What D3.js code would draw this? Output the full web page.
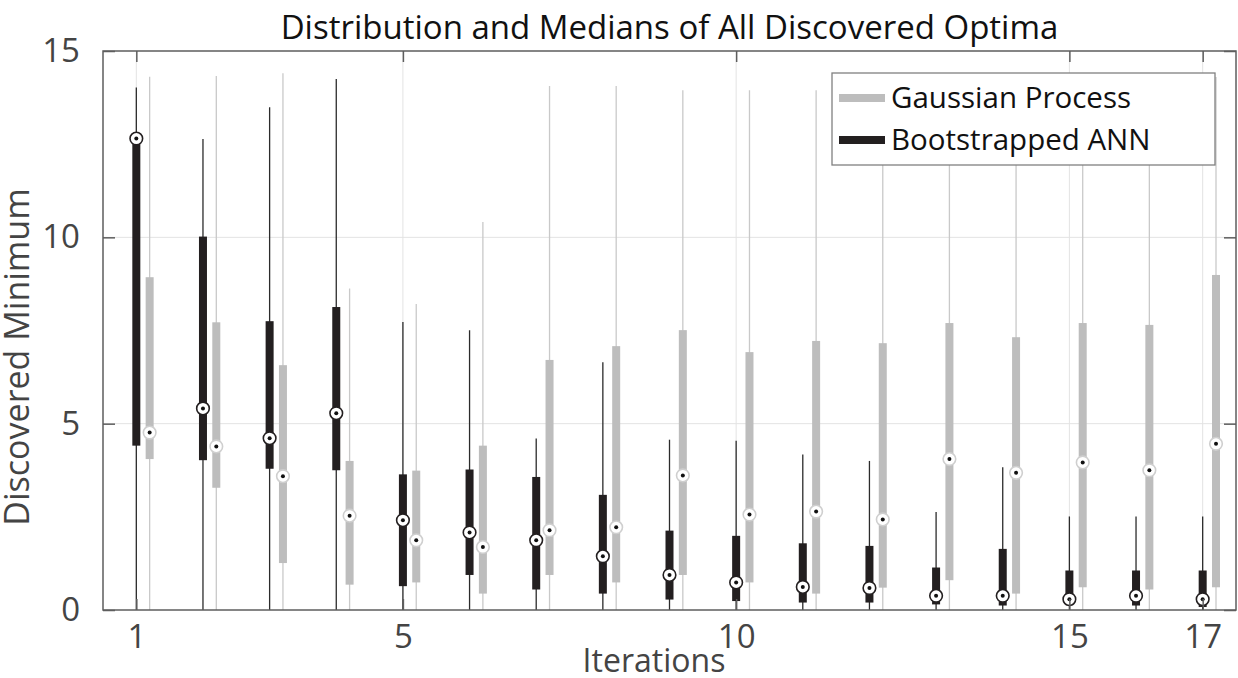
<!DOCTYPE html>
<html>
<head>
<meta charset="utf-8">
<script src="https://cdn.jsdelivr.net/npm/d3@7"></script>
<style>
  body { margin: 0; background: #fff; }
  text { font-family: "Open Sans", "Noto Sans", sans-serif; }
</style>
</head>
<body>
<svg id="chart"></svg>
<script>
const iterations = [1, 2, 3, 4, 5, 6, 7, 8, 9, 10, 11, 12, 13, 14, 15, 16, 17];
const xTicks = [1, 5, 10, 15, 17];
const yTicks = [0, 5, 10, 15];

// Bootstrapped ANN
const annHigh = [14.02, 12.64, 13.49, 14.25, 7.73, 7.51, 4.6, 6.65, 4.57, 4.54, 4.17, 4.0, 2.63, 3.83, 2.51, 2.51, 2.51];
const annQ3 = [12.6, 10.02, 7.75, 8.13, 3.64, 3.77, 3.57, 3.09, 2.13, 1.99, 1.79, 1.72, 1.14, 1.64, 1.06, 1.06, 1.06];
const annMedian = [12.65, 5.41, 4.61, 5.28, 2.41, 2.08, 1.87, 1.44, 0.94, 0.74, 0.62, 0.59, 0.38, 0.38, 0.29, 0.38, 0.29];
const annQ1 = [4.41, 4.02, 3.79, 3.75, 0.64, 0.94, 0.55, 0.44, 0.28, 0.24, 0.2, 0.2, 0.15, 0.12, 0.13, 0.12, 0.08];
const annLow = [0, 0, 0, 0, 0, 0, 0, 0, 0, 0, 0, 0, 0, 0, 0, 0, 0];

// Gaussian Process
const gpHigh = [14.31, 14.33, 14.4, 8.63, 8.21, 10.41, 14.06, 14.06, 13.95, 13.95, 13.95, 13.9, 13.9, 13.9, 13.9, 13.9, 14.3];
const gpQ3 = [8.93, 7.72, 6.57, 4.0, 3.74, 4.41, 6.71, 7.08, 7.51, 6.92, 7.22, 7.16, 7.7, 7.32, 7.7, 7.65, 8.99];
const gpMedian = [4.76, 4.39, 3.59, 2.53, 1.87, 1.69, 2.14, 2.22, 3.61, 2.56, 2.64, 2.43, 4.05, 3.68, 3.96, 3.75, 4.46];
const gpQ1 = [4.05, 3.28, 1.26, 0.68, 0.74, 0.44, 0.94, 0.74, 0.94, 0.74, 0.44, 0.6, 0.8, 0.44, 0.61, 0.55, 0.61];
const gpLow = [0, 0, 0, 0, 0, 0, 0, 0, 0, 0, 0, 0, 0, 0, 0, 0, 0];

const width = 1238;
const height = 678;
const plotLeft = 103, plotRight = 1236, plotTop = 51, plotBottom = 610;

const svg = d3.select("#chart")
  .attr("width", width)
  .attr("height", height)
  .attr("viewBox", `0 0 ${width} ${height}`);

const xScale = d3.scaleLinear().domain([0.5, 17.5]).range([plotLeft, plotRight]);
const yScale = d3.scaleLinear().domain([0, 15]).range([plotBottom, plotTop]);

const series = [
  { name: "Bootstrapped ANN", offset: 0, high: annHigh, q3: annQ3, median: annMedian, q1: annQ1, low: annLow,
    whisker: "#2b2b2b", box: "#231f20", ring: "#231f20" },
  { name: "Gaussian Process", offset: 0.2, high: gpHigh, q3: gpQ3, median: gpMedian, q1: gpQ1, low: gpLow,
    whisker: "#c9c9c9", box: "#bdbdbd", ring: "#cfcfcf" },
];

// grid
svg.append("g")
  .selectAll("line")
  .data(xTicks)
  .enter()
  .append("line")
  .attr("x1", (d) => xScale(d)).attr("x2", (d) => xScale(d))
  .attr("y1", plotTop).attr("y2", plotBottom)
  .style("stroke", "#e3e3e3").style("stroke-width", 1);

svg.append("g")
  .selectAll("line")
  .data(yTicks.slice(1, -1))
  .enter()
  .append("line")
  .attr("x1", plotLeft).attr("x2", plotRight)
  .attr("y1", (d) => yScale(d)).attr("y2", (d) => yScale(d))
  .style("stroke", "#e3e3e3").style("stroke-width", 1);

// boxes, GP first so ANN sits on top
series.slice().reverse().forEach((s) => {
  const rows = iterations.map((it, i) => ({
    x: xScale(it + s.offset), high: s.high[i], q3: s.q3[i], median: s.median[i], q1: s.q1[i], low: s.low[i],
  }));
  const g = svg.append("g");

  g.selectAll(".whisker")
    .data(rows)
    .enter()
    .append("line")
    .attr("x1", (d) => d.x).attr("x2", (d) => d.x)
    .attr("y1", (d) => yScale(d.low)).attr("y2", (d) => yScale(d.high))
    .style("stroke", s.whisker).style("stroke-width", 1.3);

  g.selectAll(".box")
    .data(rows)
    .enter()
    .append("rect")
    .attr("x", (d) => d.x - 4)
    .attr("width", 8)
    .attr("y", (d) => yScale(d.q3))
    .attr("height", (d) => yScale(d.q1) - yScale(d.q3))
    .style("fill", s.box);

  g.selectAll(".ring")
    .data(rows)
    .enter()
    .append("circle")
    .attr("cx", (d) => d.x).attr("cy", (d) => yScale(d.median))
    .attr("r", 6.3)
    .style("fill", "#fff").style("stroke", s.ring).style("stroke-width", 1.6);

  g.selectAll(".dot")
    .data(rows)
    .enter()
    .append("circle")
    .attr("cx", (d) => d.x).attr("cy", (d) => yScale(d.median))
    .attr("r", 2)
    .style("fill", "#111");
});

// axes frame
const axisColor = "#5e5e5e";
svg.append("rect")
  .attr("x", plotLeft).attr("y", plotTop)
  .attr("width", plotRight - plotLeft).attr("height", plotBottom - plotTop)
  .style("fill", "none").style("stroke", axisColor).style("stroke-width", 1.5);

const xAxis = d3.axisBottom(xScale).tickValues(xTicks).tickSize(-11).tickPadding(15).tickFormat(d3.format("d"));
const xAxisTop = d3.axisTop(xScale).tickValues(xTicks).tickSize(-11).tickFormat("");
const yAxis = d3.axisLeft(yScale).tickValues(yTicks).tickSize(-12).tickPadding(23);
const yAxisRight = d3.axisRight(yScale).tickValues(yTicks).tickSize(-12).tickFormat("");

svg.append("g").attr("transform", `translate(0, ${plotBottom})`).call(xAxis);
svg.append("g").attr("transform", `translate(0, ${plotTop})`).call(xAxisTop);
svg.append("g").attr("transform", `translate(${plotLeft}, 0)`).call(yAxis);
svg.append("g").attr("transform", `translate(${plotRight}, 0)`).call(yAxisRight);

svg.selectAll(".domain").remove();
svg.selectAll(".tick line").style("stroke", axisColor).style("stroke-width", 1.5);
svg.selectAll(".tick text")
  .style("font-family", "'Open Sans', sans-serif")
  .style("font-size", "33px")
  .style("fill", "#444");

// titles
svg.append("text")
  .attr("x", (plotLeft + plotRight) / 2)
  .attr("y", 39)
  .attr("text-anchor", "middle")
  .style("font-size", "33px")
  .style("fill", "#111")
  .text("Distribution and Medians of All Discovered Optima");

svg.append("text")
  .attr("x", 654)
  .attr("y", 672)
  .attr("text-anchor", "middle")
  .style("font-size", "32px")
  .style("fill", "#444")
  .text("Iterations");

svg.append("text")
  .attr("transform", "translate(29, 357) rotate(-90)")
  .attr("text-anchor", "middle")
  .style("font-size", "34px")
  .style("fill", "#444")
  .text("Discovered Minimum");

// legend
const legend = svg.append("g").attr("transform", "translate(832, 73)");
legend.append("rect")
  .attr("width", 383).attr("height", 92)
  .style("fill", "#fff").style("stroke", "#808080").style("stroke-width", 1.3);

const legendItems = [series[1], series[0]];
legend.selectAll(".item")
  .data(legendItems)
  .enter()
  .append("line")
  .attr("x1", 7).attr("x2", 53)
  .attr("y1", (d, i) => 25 + i * 42).attr("y2", (d, i) => 25 + i * 42)
  .style("stroke", (d) => d.box).style("stroke-width", 8);

legend.selectAll(".label")
  .data(legendItems)
  .enter()
  .append("text")
  .attr("x", 59)
  .attr("y", (d, i) => 35 + i * 42)
  .style("font-size", "29.5px")
  .style("fill", "#111")
  .text((d) => d.name);
</script>
</body>
</html>
